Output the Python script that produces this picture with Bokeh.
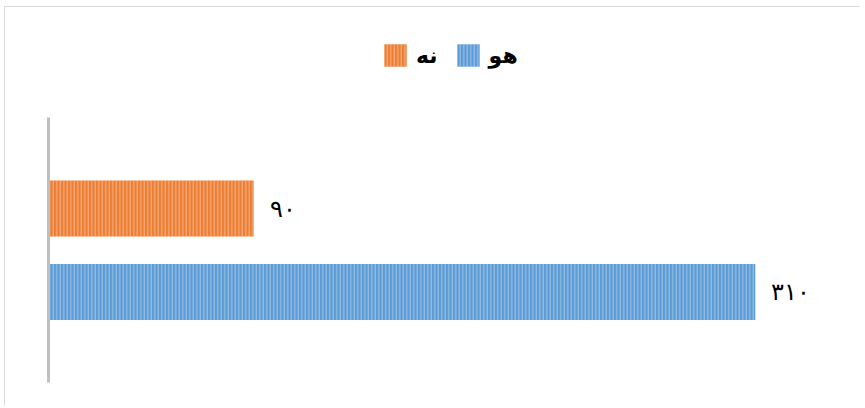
from bokeh.plotting import figure
from bokeh.models import ColumnDataSource, Range1d, Legend, LegendItem, LinearAxis
from bokeh.embed import file_html
from bokeh.resources import INLINE
from bokeh.core.properties import value

# ---- data ----
categories = ["نه", "هو"]
values = [90, 310]
colors = ["#ED7D31", "#5B9BD5"]

ARABIC_DIGITS = str.maketrans("0123456789", "٠١٢٣٤٥٦٧٨٩")
labels = [str(v).translate(ARABIC_DIGITS) for v in values]
ypos = [len(categories) - 1 - i for i in range(len(categories))]

src = ColumnDataSource(dict(cat=categories, val=values, color=colors, lab=labels, y=ypos))

p = figure(width=856, height=399, output_backend="svg", toolbar_location=None,
           x_range=Range1d(-18.86, 356.6), y_range=Range1d(-1.371, 3.407),
           min_border=0, x_axis_location=None, y_axis_location=None)
p.styles = {"border-top": "1px solid #d9d9d9", "border-left": "1px solid #d9d9d9",
            "margin-left": "4px", "margin-top": "6px"}
p.outline_line_color = None
p.grid.visible = False
p.background_fill_color = "white"
p.border_fill_color = "white"

ax = LinearAxis(fixed_location=0, bounds=(-1.084, 2.089))
ax.axis_line_color = "#bfbfbf"
ax.axis_line_width = 3
ax.major_tick_line_color = None
ax.minor_tick_line_color = None
ax.major_tick_out = 0
ax.major_tick_in = 0
ax.minor_tick_out = 0
ax.major_label_standoff = 0
ax.major_label_text_font_size = "0px"
ax.major_label_text_color = None
p.add_layout(ax, "left")

r = p.hbar(y="y", left=0, right="val", height=0.67, source=src,
           fill_color="color", line_color=None,
           hatch_pattern="|", hatch_color="white", hatch_alpha=0.45,
           hatch_scale=3.5, hatch_weight=1)

p.text(x="val", y="y", text="lab", source=src, x_offset=16,
       text_align="left", text_baseline="middle",
       text_font=value("DejaVu Serif"), text_font_size="24px", text_color="black")

items = [LegendItem(label=c, renderers=[r], index=i) for i, c in enumerate(categories)]
legend = Legend(items=items, orientation="horizontal", location=(376, 337),
                glyph_width=28, glyph_height=28, label_height=28,
                label_standoff=7, spacing=16, padding=0, margin=0,
                border_line_color=None, background_fill_alpha=0,
                label_text_font="DejaVu Sans", label_text_font_style="bold",
                label_text_font_size="22px", label_text_color="black")
p.add_layout(legend, "center")

open("out.html", "w").write(file_html(p, INLINE))
